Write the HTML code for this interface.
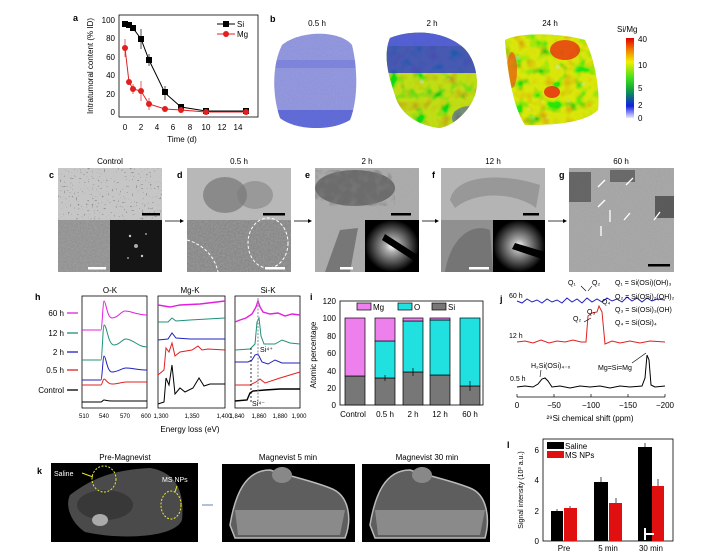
<!DOCTYPE html>
<html><head><meta charset="utf-8"><style>
html,body{margin:0;padding:0;background:#fff;}
svg{display:block;font-family:"Liberation Sans",sans-serif;}
</style></head><body>
<svg width="722" height="557" viewBox="0 0 722 557" xmlns="http://www.w3.org/2000/svg">
<defs>
<filter id="noise" x="0" y="0" width="100%" height="100%"><feTurbulence type="fractalNoise" baseFrequency="0.6" numOctaves="2" seed="3"/><feColorMatrix type="matrix" values="0 0 0 0 0.5 0 0 0 0 0.5 0 0 0 0 0.5 0 0 0 0.5 0"/></filter>
<filter id="blobs" x="0" y="0" width="100%" height="100%"><feTurbulence type="fractalNoise" baseFrequency="0.12" numOctaves="2" seed="7"/><feColorMatrix type="matrix" values="0 0 0 0 0.2 0 0 0 0 0.2 0 0 0 0 0.2 0 0 0 -1.6 0.9"/></filter>
<filter id="dots" x="0" y="0" width="100%" height="100%"><feTurbulence type="fractalNoise" baseFrequency="0.5" numOctaves="1" seed="5"/><feColorMatrix type="matrix" values="0 0 0 0 0.3 0 0 0 0 0.3 0 0 0 0 0.3 -12 0 0 0 4.2"/></filter>
<filter id="heat" x="0" y="0" width="100%" height="100%"><feTurbulence type="fractalNoise" baseFrequency="0.08" numOctaves="2" seed="11"/><feComponentTransfer><feFuncR type="table" tableValues="0 0 1 1 1"/><feFuncG type="table" tableValues="0.3 0.8 0.9 0.5 0"/><feFuncB type="table" tableValues="0.9 0 0 0 0"/><feFuncA type="table" tableValues="0.7 0.7"/></feComponentTransfer></filter>
<radialGradient id="glow"><stop offset="0" stop-color="#fff"/><stop offset="0.25" stop-color="#aaa"/><stop offset="1" stop-color="#000"/></radialGradient>
<linearGradient id="cbar" x1="0" y1="1" x2="0" y2="0"><stop offset="0" stop-color="#e8e8ff"/><stop offset="0.15" stop-color="#1020e0"/><stop offset="0.35" stop-color="#10a040"/><stop offset="0.5" stop-color="#40e020"/><stop offset="0.7" stop-color="#f0f000"/><stop offset="0.85" stop-color="#f08000"/><stop offset="1" stop-color="#e00000"/></linearGradient>
<clipPath id="b1"><path d="M282,45 C300,30 340,30 352,45 C358,70 358,100 350,120 C330,132 295,130 280,118 C272,95 272,65 282,45Z"/></clipPath>
<clipPath id="b2"><path d="M390,38 C410,30 440,30 460,45 C475,55 480,80 475,95 C470,110 455,125 440,128 C420,126 400,115 395,95 C388,75 383,55 390,38Z"/></clipPath>
<clipPath id="b3"><path d="M505,40 C520,32 560,33 585,40 C595,60 600,90 598,110 C585,122 560,125 525,125 C515,110 508,80 505,40Z"/></clipPath>
</defs>

<!-- Panel a -->
<text x="73" y="21" font-size="9" font-weight="bold">a</text>
<rect x="119" y="15" width="139" height="102" fill="none" stroke="#000" stroke-width="0.8"/>
<g font-size="8" text-anchor="end">
<text x="115" y="23">100</text><text x="115" y="41">80</text><text x="115" y="60">60</text><text x="115" y="78">40</text><text x="115" y="97">20</text><text x="115" y="115">0</text>
</g>
<g font-size="8" text-anchor="middle">
<text x="125" y="130">0</text><text x="141" y="130">2</text><text x="157" y="130">4</text><text x="173" y="130">6</text><text x="190" y="130">8</text><text x="206" y="130">10</text><text x="222" y="130">12</text><text x="238" y="130">14</text>
<text x="182" y="142">Time (d)</text>
</g>
<text transform="translate(93,66) rotate(-90)" font-size="8" text-anchor="middle">Intratumoral content (% ID)</text>
<polyline points="125,25 129,26 133,28 133,28 141,39 149,60 165,93 181,107 206,111 246,111" fill="none" stroke="#000" stroke-width="1"/>
<g stroke="#000" stroke-width="0.7"><line x1="141" y1="29" x2="141" y2="49"/><line x1="149" y1="54" x2="149" y2="66"/><line x1="165" y1="86" x2="165" y2="100"/></g>
<g fill="#000"><rect x="122" y="21" width="6" height="6"/><rect x="126" y="22" width="6" height="6"/><rect x="130" y="25" width="6" height="6"/><rect x="138" y="36" width="6" height="6"/><rect x="146" y="57" width="6" height="6"/><rect x="162" y="89" width="6" height="6"/><rect x="178" y="104" width="6" height="6"/><rect x="203" y="108" width="6" height="6"/><rect x="243" y="108" width="6" height="6"/></g>
<polyline points="125,48 129,82 133,89 141,91 149,104 165,109 181,110 206,112 246,112" fill="none" stroke="#e02020" stroke-width="1"/>
<g stroke="#e02020" stroke-width="0.7"><line x1="125" y1="39" x2="125" y2="57"/><line x1="141" y1="81" x2="141" y2="101"/><line x1="149" y1="98" x2="149" y2="110"/><line x1="133" y1="84" x2="133" y2="94"/></g>
<g fill="#e02020"><circle cx="125" cy="48" r="3"/><circle cx="129" cy="82" r="3"/><circle cx="133" cy="89" r="3"/><circle cx="141" cy="91" r="3"/><circle cx="149" cy="104" r="3"/><circle cx="165" cy="109" r="3"/><circle cx="181" cy="110" r="3"/><circle cx="206" cy="112" r="3"/><circle cx="246" cy="112" r="3"/></g>
<line x1="217" y1="24" x2="235" y2="24" stroke="#000"/><rect x="223" y="21" width="6" height="6"/>
<text x="237" y="27" font-size="8">Si</text>
<line x1="217" y1="34" x2="235" y2="34" stroke="#e02020"/><circle cx="226" cy="34" r="3" fill="#e02020"/>
<text x="237" y="37" font-size="8">Mg</text>

<!-- Panel b -->
<text x="270" y="22" font-size="9" font-weight="bold">b</text>
<text x="317" y="26" font-size="8" text-anchor="middle">0.5 h</text>
<text x="432" y="26" font-size="8" text-anchor="middle">2 h</text>
<text x="550" y="26" font-size="8" text-anchor="middle">24 h</text>
<g clip-path="url(#b1)"><rect x="270" y="28" width="95" height="105" fill="#8a90e2"/><rect x="270" y="28" width="95" height="105" filter="url(#noise)" opacity="0.6"/><rect x="270" y="60" width="95" height="8" fill="#6a72d8" opacity="0.5"/><rect x="270" y="110" width="95" height="25" fill="#3040d0" opacity="0.5"/></g>
<g clip-path="url(#b2)"><rect x="380" y="28" width="105" height="105" fill="#30b040"/><rect x="380" y="28" width="105" height="105" filter="url(#heat)"/><rect x="380" y="28" width="105" height="45" fill="#2838d8" opacity="0.8"/><rect x="380" y="28" width="105" height="18" fill="#5a62e0" opacity="0.7"/><ellipse cx="470" cy="118" rx="18" ry="12" fill="#3040d8" opacity="0.5"/></g>
<g clip-path="url(#b3)"><rect x="500" y="28" width="105" height="100" fill="#80d020"/><rect x="500" y="28" width="105" height="100" filter="url(#heat)"/><ellipse cx="565" cy="50" rx="15" ry="10" fill="#e83010" opacity="0.8"/><ellipse cx="552" cy="92" rx="8" ry="6" fill="#e82010" opacity="0.8"/><ellipse cx="512" cy="70" rx="5" ry="18" fill="#e84010" opacity="0.6"/></g>
<text x="617" y="32" font-size="8">Si/Mg</text>
<rect x="626" y="38" width="8" height="80" fill="url(#cbar)"/>
<g font-size="8"><text x="638" y="42">40</text><text x="638" y="68">10</text><text x="638" y="91">5</text><text x="638" y="108">2</text><text x="638" y="121">0</text></g>

<!-- Row c-g -->
<g font-size="8" text-anchor="middle"><text x="110" y="164">Control</text><text x="239" y="164">0.5 h</text><text x="367" y="164">2 h</text><text x="493" y="164">12 h</text><text x="621" y="164">60 h</text></g>
<g font-size="9" font-weight="bold"><text x="49" y="178">c</text><text x="177" y="178">d</text><text x="305" y="178">e</text><text x="432" y="178">f</text><text x="559" y="178">g</text></g>
<!-- c -->
<rect x="58" y="168" width="104" height="52" fill="#c6c6c6"/><rect x="58" y="168" width="104" height="52" filter="url(#dots)"/>
<rect x="58" y="220" width="52" height="52" fill="#8a8a8a"/><rect x="58" y="220" width="52" height="52" filter="url(#noise)"/>
<rect x="110" y="220" width="52" height="52" fill="#151515"/><circle cx="136" cy="246" r="2" fill="#aaa"/><circle cx="130" cy="236" r="1.2" fill="#ccc"/><circle cx="142" cy="256" r="1.2" fill="#ccc"/><circle cx="128" cy="258" r="1" fill="#999"/><circle cx="146" cy="234" r="1" fill="#999"/>
<rect x="142" y="213" width="18" height="2.5" fill="#000"/><rect x="88" y="267" width="18" height="2.5" fill="#fff"/>
<!-- d -->
<rect x="187" y="168" width="104" height="52" fill="#b8b8b8"/><ellipse cx="225" cy="195" rx="22" ry="18" fill="#6a6a6a" opacity="0.6"/><ellipse cx="255" cy="195" rx="18" ry="14" fill="#7a7a7a" opacity="0.5"/>
<rect x="187" y="220" width="104" height="52" fill="#7f7f7f"/><rect x="187" y="220" width="104" height="52" filter="url(#noise)"/>
<ellipse cx="268" cy="243" rx="20" ry="25" fill="none" stroke="#fff" stroke-dasharray="3,2"/><path d="M187,240 C205,245 215,258 218,272" fill="none" stroke="#fff" stroke-dasharray="3,2"/>
<rect x="263" y="213" width="22" height="2.5" fill="#000"/><rect x="265" y="267" width="20" height="2.5" fill="#fff"/>
<!-- e -->
<rect x="315" y="168" width="104" height="104" fill="#a8a8a8"/><rect x="315" y="168" width="104" height="104" filter="url(#noise)" opacity="0.6"/>
<ellipse cx="355" cy="188" rx="40" ry="18" fill="#6c6c6c"/><ellipse cx="355" cy="188" rx="40" ry="18" filter="url(#blobs)"/>
<path d="M325,272 L340,230 L358,228 L350,272Z" fill="#777"/>
<rect x="365" y="220" width="54" height="52" fill="url(#glow)"/><path d="M385,234 L419,256 L419,264 L382,240Z" fill="#000"/>
<rect x="391" y="213" width="20" height="2.5" fill="#000"/><rect x="340" y="267" width="13" height="2.5" fill="#fff"/>
<!-- f -->
<rect x="441" y="168" width="104" height="52" fill="#b4b4b4"/><path d="M450,200 C455,175 500,172 540,185 L536,208 C520,195 480,188 455,208Z" fill="#8c8c8c" opacity="0.7"/>
<rect x="441" y="220" width="52" height="52" fill="#909090"/><path d="M445,272 C450,240 470,222 490,230 L493,272Z" fill="#757575"/>
<rect x="493" y="220" width="52" height="52" fill="url(#glow)"/><path d="M515,243 L545,252 L545,260 L512,249Z" fill="#000"/>
<rect x="523" y="213" width="16" height="2.5" fill="#000"/><rect x="469" y="267" width="20" height="2.5" fill="#fff"/>
<!-- g -->
<rect x="569" y="168" width="105" height="104" fill="#a2a2a2"/><rect x="569" y="168" width="105" height="104" filter="url(#noise)" opacity="0.7"/>
<rect x="569" y="172" width="22" height="30" fill="#4a4a4a" opacity="0.7"/><rect x="655" y="196" width="19" height="22" fill="#3a3a3a" opacity="0.7"/><rect x="610" y="170" width="25" height="12" fill="#6a6a6a"/>
<g stroke="#fff" stroke-width="1.3"><line x1="605" y1="180" x2="598" y2="187"/><line x1="633" y1="178" x2="626" y2="185"/><line x1="605" y1="200" x2="598" y2="207"/><line x1="610" y1="210" x2="610" y2="222"/><line x1="630" y1="213" x2="624" y2="220"/><line x1="660" y1="212" x2="654" y2="220"/><line x1="601" y1="226" x2="601" y2="236"/></g>
<rect x="648" y="264" width="22" height="2.5" fill="#000"/>
<g stroke="#000" stroke-width="0.8"><line x1="165" y1="221" x2="182" y2="221"/><line x1="294" y1="221" x2="310" y2="221"/><line x1="422" y1="221" x2="437" y2="221"/><line x1="548" y1="221" x2="565" y2="221"/></g>
<g fill="#000"><path d="M184,221 l-4,-2 v4z"/><path d="M312,221 l-4,-2 v4z"/><path d="M439,221 l-4,-2 v4z"/><path d="M567,221 l-4,-2 v4z"/></g>

<!-- Panel h -->
<text x="35" y="300" font-size="9" font-weight="bold">h</text>
<g font-size="8" text-anchor="middle"><text x="110" y="293">O-K</text><text x="190" y="293">Mg-K</text><text x="268" y="293">Si-K</text></g>
<g fill="none" stroke="#000" stroke-width="0.8"><rect x="82" y="296" width="65" height="112"/><rect x="158" y="296" width="67" height="112"/><rect x="235" y="296" width="65" height="112"/></g>
<g font-size="8" text-anchor="end"><text x="64" y="316">60 h</text><text x="64" y="336">12 h</text><text x="64" y="355">2 h</text><text x="64" y="373">0.5 h</text><text x="64" y="393">Control</text></g>
<g stroke-width="1.3"><line x1="67" y1="313" x2="78" y2="313" stroke="#e020e0"/><line x1="67" y1="333" x2="78" y2="333" stroke="#20907a"/><line x1="67" y1="352" x2="78" y2="352" stroke="#2020c0"/><line x1="67" y1="370" x2="78" y2="370" stroke="#e02020"/><line x1="67" y1="390" x2="78" y2="390" stroke="#000"/></g>
<g fill="none" stroke-width="1">
<path d="M82,330 L101,330 C102,330 103,301 104,301 C106,301 107,318 112,318 C118,318 121,311 125,311 C131,311 137,315 147,315" stroke="#e020e0"/>
<path d="M82,360 L101,360 C102,360 103,325 104,325 C107,325 108,345 114,345 C120,345 122,339 126,339 C133,339 138,347 147,347" stroke="#20907a"/>
<path d="M82,380 L101,380 C102,380 103,356 104,356 C106,356 107,372 112,372 C118,372 122,368 126,368 C132,368 138,370 147,370" stroke="#2020c0"/>
<path d="M82,385 L101,385 C102,385 103,379 104,379 C106,379 107,384 112,384 C118,384 122,382 126,382 L147,382" stroke="#e02020"/>
<path d="M82,402 L101,402 C102,402 103,400 104,400 C106,400 107,401 112,401 L147,401" stroke="#000"/>
<path d="M158,305 L170,307 L180,305 L200,304 L225,301" stroke="#e020e0" stroke-width="1.4"/>
<path d="M158,322 L168,322 L172,318 L176,321 L190,320 L225,318" stroke="#20907a"/>
<path d="M158,340 L168,339 L172,333 L176,338 L190,339 L225,339" stroke="#2020c0"/>
<path d="M158,375 L164,370 L166,348 L169,352 L172,343 L175,356 L180,352 L192,350 L198,346 L202,350 L208,349 L225,350" stroke="#e02020"/>
<path d="M158,404 L164,402 L166,378 L169,385 L172,365 L175,394 L180,388 L185,392 L193,388 L199,378 L204,386 L210,384 L225,384" stroke="#000"/>
<path d="M235,322 L240,320 L246,318 L252,314 L256,307 L258,301 L260,307 L263,312 L270,314 L278,313 L285,316 L292,314 L300,315" stroke="#e020e0" stroke-width="1.4"/>
<path d="M235,350 L250,349 L255,344 L257,322 L259,318 L261,336 L264,344 L275,344 L282,340 L290,343 L300,344" stroke="#20907a"/>
<path d="M235,362 L248,362 L252,360 L255,355 L258,354 L262,362 L268,364 L275,360 L282,363 L300,363" stroke="#2020c0"/>
<path d="M235,385 L250,385 L256,382 L260,379 L265,383 L280,378 L300,372" stroke="#e02020"/>
<path d="M235,401 L247,400 L250,393 L253,391 L265,390 L280,389 L300,389" stroke="#000" stroke-width="1.4"/>
</g>
<line x1="251" y1="348" x2="251" y2="402" stroke="#000" stroke-width="0.8" stroke-dasharray="2,2"/>
<line x1="258" y1="298" x2="258" y2="402" stroke="#888" stroke-width="1" stroke-dasharray="2,1.5"/>
<text x="260" y="352" font-size="7">Si⁴⁺</text><text x="252" y="406" font-size="7">Si⁴⁻</text>
<g font-size="6" text-anchor="middle"><text x="84" y="418">510</text><text x="104" y="418">540</text><text x="125" y="418">570</text><text x="146" y="418">600</text><text x="161" y="418">1,300</text><text x="192" y="418">1,350</text><text x="224" y="418">1,400</text><text x="237" y="418">1,840</text><text x="259" y="418">1,860</text><text x="280" y="418">1,880</text><text x="299" y="418">1,900</text></g>
<text x="190" y="432" font-size="8" text-anchor="middle">Energy loss (eV)</text>

<!-- Panel i -->
<text x="310" y="300" font-size="9" font-weight="bold">i</text>
<rect x="340" y="301" width="143" height="104" fill="none" stroke="#000" stroke-width="0.8"/>
<g font-size="8" text-anchor="end"><text x="336" y="304">120</text><text x="336" y="321">100</text><text x="336" y="339">80</text><text x="336" y="356">60</text><text x="336" y="374">40</text><text x="336" y="391">20</text><text x="336" y="408">0</text></g>
<text transform="translate(316,355) rotate(-90)" font-size="8" text-anchor="middle">Atomic percentage</text>
<g stroke="#000" stroke-width="0.7">
<rect x="345" y="376" width="20" height="29" fill="#777"/><rect x="345" y="318" width="20" height="58" fill="#ee80ee"/>
<rect x="375" y="378" width="20" height="27" fill="#777"/><rect x="375" y="341" width="20" height="37" fill="#20e0e0"/><rect x="375" y="318" width="20" height="23" fill="#ee80ee"/>
<rect x="403" y="372" width="20" height="33" fill="#777"/><rect x="403" y="321" width="20" height="51" fill="#20e0e0"/><rect x="403" y="318" width="20" height="3" fill="#ee80ee"/>
<rect x="430" y="375" width="20" height="30" fill="#777"/><rect x="430" y="320" width="20" height="55" fill="#20e0e0"/><rect x="430" y="318" width="20" height="2" fill="#ee80ee"/>
<rect x="460" y="386" width="20" height="19" fill="#777"/><rect x="460" y="318" width="20" height="68" fill="#20e0e0"/>
<line x1="385" y1="375" x2="385" y2="381"/><line x1="413" y1="368" x2="413" y2="376"/><line x1="470" y1="381" x2="470" y2="391"/>
<rect x="357" y="303" width="14" height="7" fill="#ee80ee"/><rect x="398" y="303" width="14" height="7" fill="#20e0e0"/><rect x="432" y="303" width="14" height="7" fill="#777"/>
</g>
<g font-size="8"><text x="373" y="310">Mg</text><text x="414" y="310">O</text><text x="448" y="310">Si</text></g>
<g font-size="8" text-anchor="middle"><text x="353" y="417">Control</text><text x="385" y="417">0.5 h</text><text x="413" y="417">2 h</text><text x="440" y="417">12 h</text><text x="470" y="417">60 h</text></g>

<!-- Panel j -->
<text x="500" y="302" font-size="9" font-weight="bold">j</text>
<g font-size="7"><text x="509" y="298">60 h</text><text x="509" y="338">12 h</text><text x="510" y="381">0.5 h</text></g>
<path d="M517,301 L522,303 L527,299 L532,302 L537,300 L542,303 L547,299 L552,302 L557,300 L562,303 L567,298 L572,302 L577,299 L582,303 L587,298 L592,302 L597,299 L602,302 L607,298 L612,301 L617,299 L622,302 L627,297 L632,301 L637,298 L642,302 L647,298 L652,301 L657,299 L665,300" fill="none" stroke="#2020c0" stroke-width="1"/>
<path d="M517,342 L525,341 L533,343 L541,340 L549,343 L557,341 L565,342 L573,340 L581,342 L586,342 L588,316 L592,313 L597,312 L599,306 L602,312 L605,344 L612,341 L620,343 L630,341 L640,343 L650,341 L665,342" fill="none" stroke="#e02020" stroke-width="1"/>
<path d="M517,387 L525,386 L533,387 L538,384 L542,379 L545,378 L548,381 L552,387 L560,386 L570,388 L580,386 L590,387 L600,386 L610,388 L620,386 L630,387 L642,386 L645,378 L647,355 L649,360 L651,385 L655,387 L665,386" fill="none" stroke="#000" stroke-width="1"/>
<g font-size="7"><text x="568" y="285">Q₁</text><text x="592" y="285">Q₂</text><text x="602" y="304">Q₄</text><text x="573" y="321">Q₂</text><text x="587" y="314">Q₃</text>
<text x="615" y="285">Q₁ = Si(OSi)(OH)₃</text><text x="615" y="299">Q₂ = Si(OSi)₂(OH)₂</text><text x="615" y="312">Q₃ = Si(OSi)₃(OH)</text><text x="615" y="325">Q₄ = Si(OSi)₄</text>
<text x="531" y="368">H₂Si(OSi)₄₋ₓ</text><text x="598" y="370">Mg=Si=Mg</text></g>
<g stroke="#000" stroke-width="0.6"><line x1="581" y1="286" x2="586" y2="291"/><line x1="592" y1="286" x2="588" y2="291"/><line x1="584" y1="322" x2="591" y2="318"/><line x1="541" y1="370" x2="540" y2="377"/><line x1="632" y1="363" x2="646" y2="353"/></g>
<line x1="517" y1="397" x2="665" y2="397" stroke="#000" stroke-width="0.8"/>
<g stroke="#000" stroke-width="0.7"><line x1="517" y1="394" x2="517" y2="397"/><line x1="554" y1="394" x2="554" y2="397"/><line x1="591" y1="394" x2="591" y2="397"/><line x1="628" y1="394" x2="628" y2="397"/><line x1="665" y1="394" x2="665" y2="397"/></g>
<g font-size="8" text-anchor="middle"><text x="517" y="408">0</text><text x="554" y="408">−50</text><text x="591" y="408">−100</text><text x="628" y="408">−150</text><text x="665" y="408">−200</text>
<text x="590" y="421">²⁹Si chemical shift (ppm)</text></g>

<!-- Panel k -->
<text x="37" y="474" font-size="9" font-weight="bold">k</text>
<g font-size="8" text-anchor="middle"><text x="125" y="460">Pre-Magnevist</text><text x="288" y="460">Magnevist 5 min</text><text x="427" y="460">Magnevist 30 min</text></g>
<rect x="51" y="463" width="147" height="79" fill="#000"/>
<path d="M70,495 C90,480 110,470 150,468 C175,472 185,490 182,520 C175,538 120,540 85,532 C70,522 65,505 70,495Z" fill="#4a4a4a"/>
<ellipse cx="105" cy="505" rx="28" ry="15" fill="#383838"/><ellipse cx="100" cy="520" rx="8" ry="6" fill="#aaa"/>
<ellipse cx="104" cy="479" rx="12" ry="13" fill="none" stroke="#e8e830" stroke-dasharray="2,1.5"/><ellipse cx="171" cy="505" rx="10" ry="14" fill="none" stroke="#e8e830" stroke-dasharray="2,1.5"/>
<text x="54" y="476" font-size="7" fill="#fff">Saline</text><text x="162" y="482" font-size="7" fill="#fff">MS NPs</text>
<line x1="82" y1="473" x2="93" y2="477" stroke="#e8e830"/><line x1="177" y1="486" x2="175" y2="492" stroke="#e8e830"/>
<line x1="202" y1="505" x2="213" y2="505" stroke="#6080c0"/>
<rect x="222" y="464" width="133" height="78" fill="#000"/>
<path d="M230,525 C235,495 245,470 270,470 C285,475 310,480 330,488 C350,495 352,520 345,538 L235,538Z" fill="#5e5e5e" stroke="#bbb" stroke-width="1.5"/>
<path d="M235,510 L345,510 L340,535 L238,535Z" fill="#8a8a8a"/><ellipse cx="282" cy="475" rx="10" ry="8" fill="#888"/>
<rect x="362" y="464" width="128" height="78" fill="#000"/>
<path d="M370,525 C375,495 385,470 410,470 C425,475 450,480 470,488 C488,495 490,520 485,538 L375,538Z" fill="#5e5e5e" stroke="#bbb" stroke-width="1.5"/>
<path d="M375,510 L485,510 L480,535 L378,535Z" fill="#8a8a8a"/><ellipse cx="422" cy="475" rx="10" ry="8" fill="#888"/>

<!-- Panel l -->
<text x="507" y="448" font-size="9" font-weight="bold">l</text>
<rect x="543" y="439" width="130" height="102" fill="none" stroke="#000" stroke-width="0.8"/>
<g font-size="8" text-anchor="end"><text x="539" y="453">6</text><text x="539" y="483">4</text><text x="539" y="514">2</text><text x="539" y="544">0</text></g>
<text transform="translate(523,490) rotate(-90)" font-size="7" text-anchor="middle">Signal intensity (10³ a.u.)</text>
<rect x="551" y="511" width="12" height="30" fill="#000"/><rect x="564" y="508" width="13" height="33" fill="#e01010"/>
<rect x="594" y="482" width="14" height="59" fill="#000"/><rect x="609" y="503" width="13" height="38" fill="#e01010"/>
<rect x="638" y="447" width="14" height="94" fill="#000"/><rect x="652" y="486" width="12" height="55" fill="#e01010"/>
<g stroke="#000" stroke-width="0.7"><line x1="601" y1="477" x2="601" y2="482"/><line x1="616" y1="498" x2="616" y2="503"/><line x1="645" y1="443" x2="645" y2="447"/><line x1="658" y1="479" x2="658" y2="486"/><line x1="557" y1="509" x2="557" y2="511"/><line x1="570" y1="506" x2="570" y2="508"/></g>
<rect x="547" y="442" width="17" height="7" fill="#000"/><rect x="547" y="451" width="17" height="7" fill="#e01010"/>
<g font-size="8"><text x="565" y="449">Saline</text><text x="565" y="458">MS NPs</text></g>
<g font-size="8" text-anchor="middle"><text x="564" y="551">Pre</text><text x="608" y="551">5 min</text><text x="651" y="551">30 min</text></g>
<rect x="644" y="528" width="2" height="12" fill="#fff"/><rect x="644" y="533" width="10" height="2" fill="#fff"/>
</svg>
</body></html>
